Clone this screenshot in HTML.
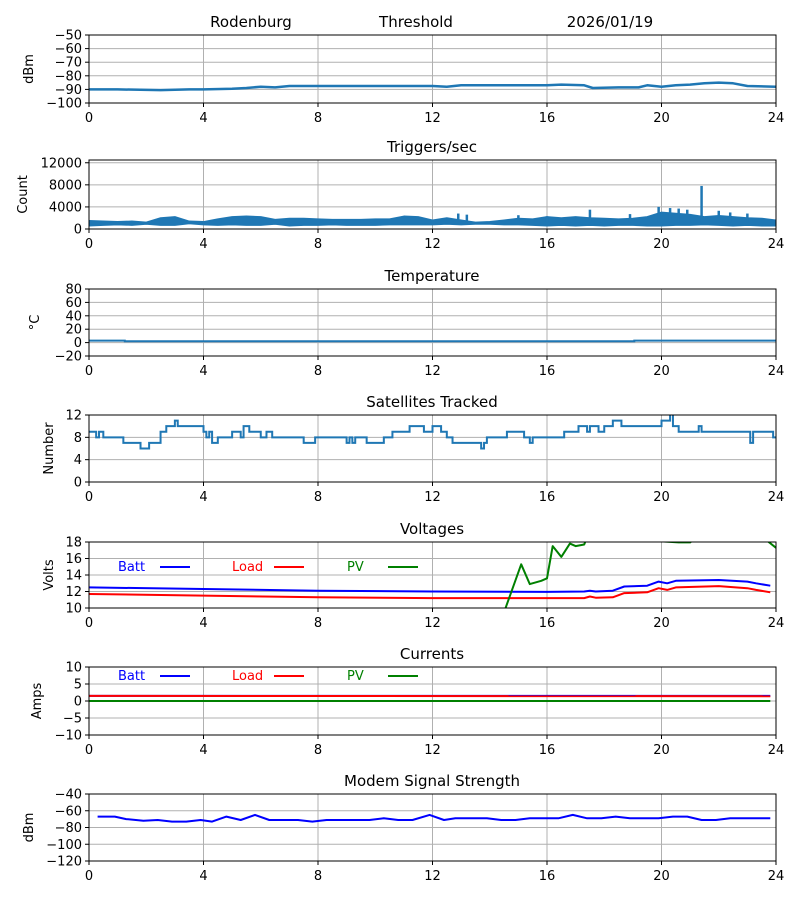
<!DOCTYPE html>
<html><head><meta charset="utf-8">
<style>
body{margin:0;background:#fff;}
svg text{font-family:"DejaVu Sans","Liberation Sans",sans-serif;}
</style></head>
<body>
<svg id="chart" width="800" height="900" xmlns="http://www.w3.org/2000/svg">
<text x="251" y="27" font-size="15" text-anchor="middle">Rodenburg</text>
<text x="416" y="27" font-size="15" text-anchor="middle">Threshold</text>
<text x="610" y="27" font-size="15" text-anchor="middle">2026/01/19</text>
</svg>
<script>
// ---- data ----
const xTicks = [0,4,8,12,16,20,24];
const thrHours = [0,1,2.5,3.5,4,5,5.5,6,6.5,7,9,12,12.5,13,14,16,16.5,17.3,17.6,18.5,19.2,19.5,20,20.5,21,21.5,22,22.5,23,24];
const thrVals  = [-90,-90,-90.5,-90,-90,-89.5,-89,-88,-88.5,-87.5,-87.5,-87.5,-88,-87,-87,-87,-86.5,-87,-89,-88.5,-88.5,-87,-88,-87,-86.5,-85.5,-85,-85.5,-87.5,-88];
const thrTicks = [-50,-60,-70,-80,-90,-100];

const trigHours = [0,0.5,1,1.5,2,2.5,3,3.5,4,4.5,5,5.5,6,6.5,7,7.5,8,8.5,9,9.5,10,10.5,11,11.5,12,12.5,13,13.5,14,14.5,15,15.5,16,16.5,17,17.5,18,18.5,19,19.5,20,20.5,21,21.5,22,22.5,23,23.5,24];
const trigLow  = [600,700,800,700,900,700,700,1000,800,700,800,700,700,900,600,700,700,800,700,700,700,800,800,800,800,900,800,900,900,800,800,700,600,700,600,700,600,700,700,600,600,700,700,800,700,600,700,600,600];
const trigHigh = [1500,1400,1300,1400,1200,2000,2200,1400,1300,1800,2200,2300,2200,1700,1900,1900,1800,1700,1700,1700,1800,1800,2300,2200,1600,2000,1600,1200,1300,1600,1900,1800,2200,2000,2200,2000,1900,1800,1900,2200,3000,2800,2600,2200,2400,2200,2000,1900,1600];
const spikeHours = [12.9,13.2,15.0,16.0,17.5,18.9,19.9,20.3,20.6,20.9,21.4,22.0,22.4,23.0];
const spikeVals  = [2800,2600,2500,2300,3500,2700,4000,3800,3700,3500,7800,3300,3000,2800];
const trigTicks = [0,4000,8000,12000];

const tempHours = [0,1.2,1.25,19,19.05,24];
const tempVals  = [3,3,2,2,3,3];
const tempTicks = [-20,0,20,40,60,80];

const satHours = [0,0.25,0.35,0.5,1.2,1.8,2.1,2.5,2.7,3.0,3.1,4.0,4.1,4.2,4.3,4.5,5.0,5.3,5.4,5.6,6.0,6.2,6.4,6.5,7.5,7.9,8.0,9.0,9.1,9.2,9.3,9.7,10.3,10.6,11.2,11.7,12.0,12.3,12.5,12.7,13.2,13.7,13.8,13.9,14.6,15.2,15.4,15.5,16.6,17.1,17.4,17.5,17.8,18.0,18.3,18.6,19.0,20.0,20.3,20.4,20.6,21.3,21.4,21.6,23.1,23.2,23.9,24];
const satVals  = [9,8,9,8,7,6,7,9,10,11,10,9,8,9,7,8,9,8,10,9,8,9,8,8,7,8,8,7,8,7,8,7,8,9,10,9,10,9,8,7,7,6,7,8,9,8,7,8,9,10,9,10,9,10,11,10,10,11,13,10,9,10,9,9,7,9,8,8];
const satTicks = [0,4,8,12];

const voltHours = [0,4,8,12,16,17.3,17.5,17.7,18.3,18.7,19.5,19.9,20.2,20.5,22,23,23.3,23.8];
const battV = [12.5,12.3,12.1,12.0,11.95,12.0,12.1,12.0,12.1,12.6,12.7,13.2,13.0,13.3,13.4,13.2,13.0,12.7];
const loadV = [11.7,11.5,11.3,11.2,11.2,11.2,11.4,11.25,11.3,11.8,11.9,12.4,12.2,12.5,12.65,12.4,12.2,11.9];
const pvHours = [14.5,15.1,15.4,15.8,16.0,16.2,16.5,16.8,17.0,17.3,17.4,20.6,21.0,21.2,23.6,24];
const pvV = [9.5,15.3,12.9,13.3,13.6,17.5,16.2,17.8,17.5,17.7,18.6,17.95,17.95,18.5,18.4,17.3];
const voltTicks = [10,12,14,16,18];

const curHours = [0,23.8];
const battA = [1.5,1.5];
const loadA = [1.5,1.4];
const pvA = [0,0];
const curTicks = [-10,-5,0,5,10];

const modemHours = [0.3,0.9,1.3,1.9,2.4,2.9,3.4,3.9,4.3,4.8,5.3,5.8,6.3,6.8,7.3,7.8,8.3,8.8,9.3,9.8,10.3,10.8,11.3,11.9,12.4,12.8,13.3,13.9,14.4,14.9,15.4,15.9,16.4,16.9,17.4,17.9,18.4,18.9,19.4,19.9,20.4,20.9,21.4,21.9,22.4,22.9,23.4,23.8];
const modemVals = [-67,-67,-70,-72,-71,-73,-73,-71,-73,-67,-71,-65,-71,-71,-71,-73,-71,-71,-71,-71,-69,-71,-71,-65,-71,-69,-69,-69,-71,-71,-69,-69,-69,-65,-69,-69,-67,-69,-69,-69,-67,-67,-71,-71,-69,-69,-69,-69];
const modemTicks = [-40,-60,-80,-100,-120];

// ---- drawing ----
const NS = "http://www.w3.org/2000/svg";
const svg = document.getElementById("chart");
const X0 = 89, X1 = 776;
function mk(tag, attrs, parent){ const e=document.createElementNS(NS,tag); for(const k in attrs) e.setAttribute(k,attrs[k]); (parent||svg).appendChild(e); return e; }
function xs(h){ return X0 + (h/24)*(X1-X0); }

function panel(key, top, bot, ymin, ymax, ticks, ylabel, title){
  const g = mk("g",{});
  
  
  const ys = v => bot - (v-ymin)/(ymax-ymin)*(bot-top);
  const cp = mk("clipPath",{id:"cp-"+key}, g);
  mk("rect",{x:X0,y:top,width:X1-X0,height:bot-top},cp);
  xTicks.forEach(t=>{
    const l = mk("line",{x1:xs(t),x2:xs(t),y1:top,y2:bot,stroke:"#b0b0b0","stroke-width":1},g);
    
    
    mk("line",{x1:xs(t),x2:xs(t),y1:bot,y2:bot+4,stroke:"#000"},g);
    const tx = mk("text",{x:xs(t),y:bot+19,"font-size":13,"text-anchor":"middle"},g);
    tx.textContent = t;
    
    
  });
  ticks.forEach(t=>{
    const y = ys(t);
    const l = mk("line",{x1:X0,x2:X1,y1:y,y2:y,stroke:"#b0b0b0","stroke-width":1},g);
    
    
    mk("line",{x1:X0-4,x2:X0,y1:y,y2:y,stroke:"#000"},g);
    const tx = mk("text",{x:X0-7,y:y+4.5,"font-size":13,"text-anchor":"end"},g);
    tx.textContent = String(t).replace("-","\u2212");
    
    
  });
  const yl = mk("text",{x:0,y:0,"font-size":13,"text-anchor":"middle",transform:`translate(${ylabel.x},${(top+bot)/2}) rotate(-90)`},g);
  yl.textContent = ylabel.t;
  
  
  if(title){
    const tt = mk("text",{x:432,y:top-8,"font-size":15,"text-anchor":"middle"},g);
    tt.textContent = title;
    
    
  }
  const plot = mk("g",{"clip-path":`url(#cp-${key})`},g);
  return {g, plot, ys, top, bot};
}
function frame(p){ mk("rect",{x:X0,y:p.top,width:X1-X0,height:p.bot-p.top,fill:"none",stroke:"#000","stroke-width":1},p.g); }
function line(p, hours, vals, color, w, name){
  const pts = hours.map((h,i)=>xs(h).toFixed(1)+","+p.ys(vals[i]).toFixed(1)).join(" ");
  const pl = mk("polyline",{points:pts,fill:"none",stroke:color,"stroke-width":w,"stroke-linejoin":"round"},p.plot);
  
  
}
function stepLine(p, hours, vals, color, w, name){
  let pts=[];
  hours.forEach((h,i)=>{ if(i>0) pts.push(xs(h)+","+p.ys(vals[i-1])); pts.push(xs(h)+","+p.ys(vals[i])); });
  const pl = mk("polyline",{points:pts.join(" "),fill:"none",stroke:color,"stroke-width":w},p.plot);
  
  
}
function legend(p, y){
  [["Batt","blue",118,160],["Load","red",232,274],["PV","green",347,388]].forEach(([t,c,tx,lx])=>{
    const e = mk("text",{x:tx,y:y+5,"font-size":13,fill:c},p.g);
    e.textContent=t;
    
    
    mk("line",{x1:lx,x2:lx+30,y1:y+1,y2:y+1,stroke:c,"stroke-width":2},p.g);
  });
}
const C = "#1f77b4";

const p1 = panel("threshold",35,103,-100,-50,thrTicks,{x:33,t:"dBm"},null);
line(p1, thrHours, thrVals, C, 2.5, "threshold-line"); frame(p1);

const p2 = panel("triggers",160,229,0,12500,trigTicks,{x:27,t:"Count"},"Triggers/sec");
{
  const up = trigHours.map((h,i)=>xs(h).toFixed(1)+","+p2.ys(trigHigh[i]).toFixed(1));
  const dn = trigHours.map((h,i)=>xs(h).toFixed(1)+","+p2.ys(trigLow[i]).toFixed(1)).reverse();
  const band = mk("polygon",{points:up.concat(dn).join(" "),fill:C,stroke:C,"stroke-width":1.5,"stroke-linejoin":"round"},p2.plot);
  
  
  spikeHours.forEach((h,i)=>{
    const s = mk("line",{x1:xs(h),x2:xs(h),y1:p2.ys(1200),y2:p2.ys(spikeVals[i]),stroke:C,"stroke-width":2.5},p2.plot);
    
    
  });
}
frame(p2);

const p3 = panel("temperature",289,356,-20,80,tempTicks,{x:39,t:"°C"},"Temperature");
stepLine(p3, tempHours, tempVals, C, 2, "temperature-line"); frame(p3);

const p4 = panel("satellites",415,482,0,12,satTicks,{x:53,t:"Number"},"Satellites Tracked");
stepLine(p4, satHours, satVals, C, 2, "satellites-line"); frame(p4);

const p5 = panel("voltages",542,608,10,18,voltTicks,{x:53,t:"Volts"},"Voltages");
line(p5, voltHours, battV, "blue", 2, "batt-voltage-line");
line(p5, voltHours, loadV, "red", 2, "load-voltage-line");
line(p5, pvHours, pvV, "green", 2, "pv-voltage-line");
legend(p5, 566); frame(p5);

const p6 = panel("currents",667,735,-10,10,curTicks,{x:41,t:"Amps"},"Currents");
line(p6, curHours, battA, "blue", 2, "batt-current-line");
line(p6, curHours, loadA, "red", 2, "load-current-line");
line(p6, curHours, pvA, "green", 2, "pv-current-line");
legend(p6, 675); frame(p6);

const p7 = panel("modem",794,861,-120,-40,modemTicks,{x:33,t:"dBm"},"Modem Signal Strength");
line(p7, modemHours, modemVals, "blue", 2, "modem-signal-line"); frame(p7);
</script>
</body></html>
